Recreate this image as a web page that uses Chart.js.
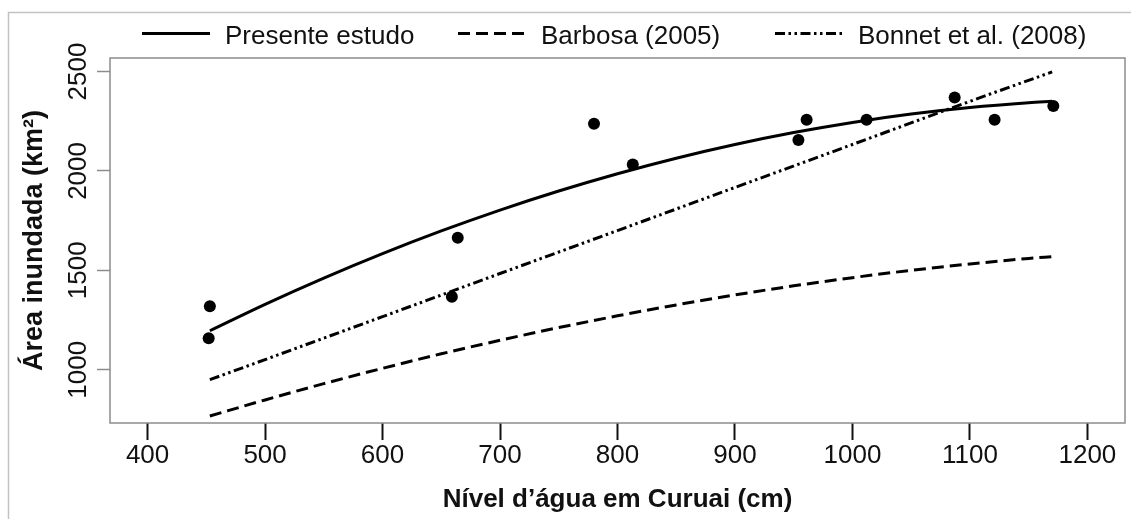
<!DOCTYPE html>
<html>
<head>
<meta charset="utf-8">
<script src="https://cdn.jsdelivr.net/npm/chart.js@4/dist/chart.umd.min.js"></script>
<style>
  html, body { margin: 0; padding: 0; background: #ffffff; }
  canvas { display: block; }
</style>
</head>
<body>
<canvas id="chart" width="1131" height="519"></canvas>
<script>
// Observed water level at Curuai (cm) and flooded area (km²)
const waterLevel  = [453, 452, 659, 664, 780, 813, 954, 961, 1012, 1087, 1121, 1171];
const floodedArea = [1319, 1158, 1367, 1664, 2237, 2032, 2156, 2257, 2257, 2369, 2257, 2327];

// Curves read along the range of observed levels
const presenteLevels = [453, 500, 550, 600, 650, 700, 750, 800, 850, 900, 950, 1000, 1050, 1100, 1150, 1170];
const presenteArea   = [1196, 1329, 1461, 1584, 1698, 1803, 1899, 1986, 2064, 2133, 2193, 2244, 2286, 2319, 2343, 2350];

const barbosaLevels = [453, 500, 550, 600, 650, 700, 750, 800, 850, 900, 950, 1000, 1050, 1100, 1150, 1170];
const barbosaArea   = [767, 848, 930, 1007, 1080, 1148, 1212, 1271, 1326, 1376, 1422, 1463, 1500, 1532, 1560, 1569];

const bonnetLevels = [453, 500, 600, 700, 800, 900, 1000, 1100, 1170];
const bonnetArea   = [950, 1051, 1267, 1484, 1700, 1917, 2133, 2350, 2498];

const seriesLabels = ['Presente estudo', 'Barbosa (2005)', 'Bonnet et al. (2008)'];
const xTicks = [400, 500, 600, 700, 800, 900, 1000, 1100, 1200];
const yTicks = [1000, 1500, 2000, 2500];

const toPoints = (xs, ys) => xs.map((x, i) => ({ x: x, y: ys[i] }));

const FONT = "'Liberation Sans', Arial, Helvetica, sans-serif";
const INK = '#111111';
const BOX = '#8c8c8c';

// Page frame and plot box
const framePlugin = {
  id: 'frame',
  beforeDraw(chart) {
    const ctx = chart.ctx;
    ctx.save();
    ctx.strokeStyle = '#c2c2c2';
    ctx.lineWidth = 1.5;
    ctx.beginPath();
    ctx.moveTo(8.5, chart.height);
    ctx.lineTo(8.5, 12.5);
    ctx.lineTo(chart.width, 12.5);
    ctx.stroke();
    ctx.restore();
  },
  beforeDatasetsDraw(chart) {
    const a = chart.chartArea;
    const ctx = chart.ctx;
    ctx.save();
    ctx.strokeStyle = BOX;
    ctx.lineWidth = 1.5;
    ctx.strokeRect(a.left, a.top, a.right - a.left, a.bottom - a.top);
    ctx.restore();
  }
};

// Horizontal legend across the top with line samples
const lineLegendPlugin = {
  id: 'lineLegend',
  afterDraw(chart, args, opts) {
    const ctx = chart.ctx;
    ctx.save();
    ctx.font = '26px ' + FONT;
    ctx.fillStyle = INK;
    ctx.textBaseline = 'alphabetic';
    ctx.textAlign = 'left';
    let k = 0;
    chart.data.datasets.forEach(ds => {
      if (!ds.showLine) return;
      const x0 = opts.starts[k++];
      ctx.strokeStyle = ds.borderColor;
      ctx.lineWidth = ds.borderWidth;
      ctx.setLineDash(ds.borderDash || []);
      ctx.beginPath();
      ctx.moveTo(x0, opts.lineY);
      ctx.lineTo(x0 + opts.sample, opts.lineY);
      ctx.stroke();
      ctx.setLineDash([]);
      ctx.fillText(ds.label, x0 + opts.sample + opts.gap, opts.textY);
    });
    ctx.restore();
  }
};

const lineStyle = {
  showLine: true,
  pointRadius: 0,
  pointHoverRadius: 0,
  borderColor: '#000000',
  backgroundColor: '#000000',
  borderWidth: 3,
  fill: false,
  cubicInterpolationMode: 'monotone',
  borderCapStyle: 'butt'
};

const plainNumber = v => String(v);

new Chart(document.getElementById('chart'), {
  type: 'scatter',
  data: {
    datasets: [
      {
        label: 'Observado',
        data: toPoints(waterLevel, floodedArea),
        pointRadius: 6,
        pointHoverRadius: 6,
        pointBackgroundColor: '#000000',
        pointBorderColor: '#000000',
        pointBorderWidth: 0,
        showLine: false
      },
      Object.assign({}, lineStyle, {
        label: seriesLabels[0],
        data: toPoints(presenteLevels, presenteArea)
      }),
      Object.assign({}, lineStyle, {
        label: seriesLabels[1],
        data: toPoints(barbosaLevels, barbosaArea),
        borderDash: [12, 6]
      }),
      Object.assign({}, lineStyle, {
        label: seriesLabels[2],
        data: toPoints(bonnetLevels, bonnetArea),
        borderDash: [10, 3.5, 2.5, 3.5, 2.5, 3.5]
      })
    ]
  },
  options: {
    responsive: false,
    animation: false,
    devicePixelRatio: 1,
    layout: { padding: { top: 58, right: 1, bottom: 0, left: 0 } },
    plugins: {
      legend: { display: false },
      tooltip: { enabled: false },
      lineLegend: { starts: [142, 458, 775], sample: 68, gap: 15, lineY: 33.5, textY: 43.5 }
    },
    scales: {
      x: {
        type: 'linear',
        min: 368,
        max: 1232,
        afterBuildTicks: s => { s.ticks = xTicks.map(v => ({ value: v })); },
        afterFit: s => { s.height = 96; },
        border: { display: false },
        grid: {
          drawOnChartArea: false,
          drawTicks: true,
          tickLength: 17,
          tickColor: INK,
          tickWidth: 2
        },
        ticks: {
          autoSkip: false,
          maxRotation: 0,
          padding: 0,
          color: INK,
          font: { family: FONT, size: 26 },
          callback: plainNumber
        },
        title: {
          display: true,
          text: 'Nível d’água em Curuai (cm)',
          color: INK,
          font: { family: FONT, size: 26, weight: 'bold' },
          padding: { top: 0, bottom: 4 }
        }
      },
      y: {
        type: 'linear',
        min: 732,
        max: 2568,
        afterBuildTicks: s => { s.ticks = yTicks.map(v => ({ value: v })); },
        afterFit: s => { s.width = 110; },
        border: { display: false },
        grid: {
          drawOnChartArea: false,
          drawTicks: true,
          tickLength: 13,
          tickColor: BOX,
          tickWidth: 1.5
        },
        ticks: {
          autoSkip: false,
          minRotation: 90,
          maxRotation: 90,
          crossAlign: 'center',
          padding: -11,
          color: INK,
          font: { family: FONT, size: 26 },
          callback: plainNumber
        },
        title: {
          display: true,
          text: 'Área inundada (km²)',
          color: INK,
          font: { family: FONT, size: 27, weight: 'bold' },
          padding: { top: 18, bottom: 0 }
        }
      }
    }
  },
  plugins: [framePlugin, lineLegendPlugin]
});
</script>
</body>
</html>
